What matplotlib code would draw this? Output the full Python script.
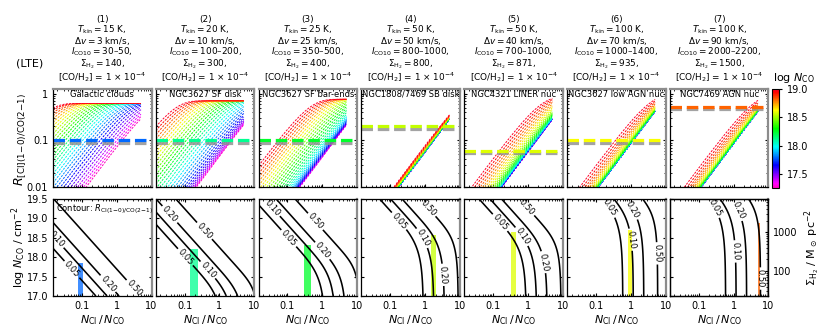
import numpy as np
import matplotlib
matplotlib.use("Agg")
import matplotlib.pyplot as plt
import matplotlib.patheffects as pe
from matplotlib.colors import Normalize
from matplotlib import ticker

# ---------------- data ----------------
PANEL_NO = ["(1)", "(2)", "(3)", "(4)", "(5)", "(6)", "(7)"]
T_KIN = [15, 20, 25, 50, 50, 100, 100]            # K
DV = [3, 10, 25, 50, 40, 70, 90]                  # km/s
I_CO10 = ["30–50", "100–200", "350–500", "800–1000", "700–1000", "1000–1400", "2000–2200"]
SIGMA_H2 = [140, 300, 400, 800, 871, 935, 1500]
NAMES = ["Galactic clouds", "NGC3627 SF disk", "NGC3627 SF bar-ends",
         "NGC1808/7469 SB disk", "NGC4321 LINER nuc", "NGC3627 low AGN nuc",
         "NGC7469 AGN nuc"]
LOGN_TOP_LO = [16.5, 16.5, 16.5, 16.5, 16.5, 16.5, 16.5]
LOGN_TOP_HI = [19.5, 19.5, 19.1, 18.1, 19.0, 19.45, 19.5]
N_CURVES = 31
R_OBS = [0.10, 0.10, 0.10, 0.20, 0.06, 0.10, 0.53]
BAND_X = [(0.08, 0.11), (0.14, 0.25), (0.30, 0.47), (1.5, 2.0),
          (0.32, 0.45), (0.85, 1.05), (5.0, 5.9)]
BAND_LOGN = [17.85, 18.2, 18.32, 18.58, 18.64, 18.7, 18.87]
CONTOUR_LEVELS = [0.05, 0.10, 0.20, 0.50]
X_CURVE_RANGE = (0.015, 5.0)
XLIM = (0.015, 10.0)
LOGN_LIM = (17.0, 19.5)
CBAR_LIM = (17.25, 19.0)
SIGMA_OFFSET = 15.64     # log N_CO - log Sigma_H2 for [CO/H2]=1e-4

# contour-label placement (axes fractions), layout only
LABEL_POS = [
    [(0.22, 0.30), (0.05, 0.60), (0.54, 0.11), (0.78, 0.04)],
    [(0.31, 0.41), (0.53, 0.27), (0.14, 0.84), (0.47, 0.65)],
    [(0.30, 0.59), (0.13, 0.90), (0.64, 0.46), (0.59, 0.78)],
    [(0.39, 0.78), (0.64, 0.61), (0.85, 0.22), (0.69, 0.92)],
    [(0.39, 0.78), (0.58, 0.61), (0.81, 0.35), (0.66, 0.94)],
    [(0.40, 0.89), (0.64, 0.58), (0.66, 0.89), (0.92, 0.44)],
    [(0.47, 0.92), (0.67, 0.46), (0.71, 0.89), (0.89, 0.18)],
]

# ---------------- LTE model ----------------
h = 6.62607e-27
kB = 1.380649e-16
c = 2.99792e10
TBG = 2.73
NU_CI, A_CI = 492.1607e9, 7.880e-8
E_CI, G_CI = np.array([0.0, 23.62, 62.46]), np.array([1, 3, 5])
NU_CO, A_CO, B_CO = 230.538e9, 6.910e-7, 2.766


def jnu(T, nu):
    T0 = h * nu / kB
    return T0 / np.expm1(T0 / T)


def tau_ci(N, T, dv):
    Q = np.sum(G_CI * np.exp(-E_CI / T))
    Nu = N * 3 * np.exp(-E_CI[1] / T) / Q
    return c**3 * A_CI / (8 * np.pi * NU_CI**3) * Nu * np.expm1(h * NU_CI / (kB * T)) / (dv * 1e5)


def tau_co(N, T, dv):
    J = np.arange(0, 80)
    Q = np.sum((2 * J + 1) * np.exp(-B_CO * J * (J + 1) / T))
    Nu = N * 5 * np.exp(-6 * B_CO / T) / Q
    return c**3 * A_CO / (8 * np.pi * NU_CO**3) * Nu * np.expm1(h * NU_CO / (kB * T)) / (dv * 1e5)


def ratio(x, N, T, dv):
    tci = tau_ci(x * N, T, dv)
    tco = tau_co(N, T, dv)
    num = (jnu(T, NU_CI) - jnu(TBG, NU_CI)) * (-np.expm1(-tci))
    den = (jnu(T, NU_CO) - jnu(TBG, NU_CO)) * (-np.expm1(-tco))
    return num / den


# ---------------- figure ----------------
plt.rcParams.update({
    "font.family": "DejaVu Sans",
    "font.size": 7,
    "xtick.direction": "in", "ytick.direction": "in",
    "xtick.top": True, "ytick.right": True,
    "xtick.major.size": 2.5, "ytick.major.size": 2.5,
    "xtick.minor.size": 1.3, "ytick.minor.size": 1.3,
    "xtick.labelsize": 7, "ytick.labelsize": 7,
    "axes.linewidth": 0.9,
})

W, H = 822, 329
fig = plt.figure(figsize=(W / 100, H / 100), dpi=100)
cmap = plt.get_cmap("gist_rainbow_r")
norm = Normalize(*CBAR_LIM)

col_left = [53 + i * 102.83 for i in range(7)]
pw = 98.5
top_y0, top_y1 = 88.5, 187.0
bot_y0, bot_y1 = 199.0, 296.0


def fax(x0, y0, w, hgt):
    return fig.add_axes([x0 / W, 1 - (y0 + hgt) / H, w / W, hgt / H])


def frac_to_data(fx, fy):
    lx0, lx1 = np.log10(XLIM[0]), np.log10(XLIM[1])
    return 10 ** (lx0 + fx * (lx1 - lx0)), LOGN_LIM[0] + fy * (LOGN_LIM[1] - LOGN_LIM[0])


xc = np.logspace(np.log10(X_CURVE_RANGE[0]), np.log10(X_CURVE_RANGE[1]), 300)
xg = np.logspace(np.log10(XLIM[0]), np.log10(XLIM[1]), 300)
ng = np.linspace(LOGN_LIM[0], LOGN_LIM[1], 250)
XG, NG = np.meshgrid(xg, ng)

for i in range(7):
    T, dv = T_KIN[i], DV[i]
    ax = fax(col_left[i], top_y0, pw, top_y1 - top_y0)
    logNs = np.linspace(LOGN_TOP_LO[i], LOGN_TOP_HI[i], N_CURVES)
    for j, lN in enumerate(logNs):
        col = cmap(j / (N_CURVES - 1))
        ax.plot(xc, ratio(xc, 10**lN, T, dv), color=col, lw=0.7,
                ls=(0, (2.2, 1.3)))
    ocol = cmap(norm(np.log10(SIGMA_H2[i]) + SIGMA_OFFSET))
    ax.axhline(R_OBS[i], color=ocol, lw=2.3, ls=(0, (3.6, 1.5)),
               path_effects=[pe.SimpleLineShadow(offset=(0, -1.7), shadow_color="0.55", alpha=0.8),
                             pe.Normal()])
    ax.set_xscale("log"); ax.set_yscale("log")
    ax.set_xlim(*XLIM); ax.set_ylim(0.01, 1.3)
    ax.xaxis.set_major_formatter(ticker.NullFormatter())
    ax.xaxis.set_minor_formatter(ticker.NullFormatter())
    if i == 0:
        ax.set_yticks([0.01, 0.1, 1])
        ax.set_yticklabels(["0.01", "0.1", "1"])
    else:
        ax.yaxis.set_major_formatter(ticker.NullFormatter())
    ax.yaxis.set_minor_formatter(ticker.NullFormatter())
    for sp in ("top", "right"):
        ax.spines[sp].set_color("0.55"); ax.spines[sp].set_linewidth(1.6)
    ax.text(0.5, 0.985, NAMES[i], transform=ax.transAxes, ha="center", va="top",
            fontsize=6)

    # title block (one multi-line text per column)
    cx = (col_left[i] + pw / 2) / W
    lines = [PANEL_NO[i],
             r"$T_{\rm kin}=%d$ K," % T,
             r"$\Delta v=%d$ km/s," % dv,
             r"$I_{\rm CO10}=$" + I_CO10[i] + ",",
             r"$\Sigma_{\rm H_2}=%d$," % SIGMA_H2[i],
             r"[CO/H$_2$] = 1 × 10$^{-4}$"]
    fig.text(cx, 1 - 84 / H, "\n".join(lines), ha="center", va="bottom",
             multialignment="center", fontsize=6.4, linespacing=0.9)

    # bottom contour panel
    bx = fax(col_left[i], bot_y0, pw, bot_y1 - bot_y0)
    RG = ratio(XG, 10**NG, T, dv)
    bx.fill_between(list(BAND_X[i]), [LOGN_LIM[0]] * 2, [BAND_LOGN[i]] * 2,
                    color=ocol, alpha=0.75, lw=0)
    bx.set_xscale("log")
    bx.set_xlim(*XLIM); bx.set_ylim(*LOGN_LIM)
    cs = bx.contour(XG, NG, RG, levels=CONTOUR_LEVELS, colors="k", linewidths=1.15)
    manual = [frac_to_data(fx, fy) for fx, fy in LABEL_POS[i]]
    bx.clabel(cs, fmt="%.2f", fontsize=6, inline=True, inline_spacing=2, manual=manual)
    bx.set_xticks([0.1, 1, 10]); bx.set_xticklabels(["0.1", "1", "10"])
    bx.xaxis.set_minor_formatter(ticker.NullFormatter())
    bx.set_yticks([17.0, 17.5, 18.0, 18.5, 19.0, 19.5])
    if i == 0:
        bx.set_yticklabels(["17.0", "17.5", "18.0", "18.5", "19.0", "19.5"])
        bx.text(0.03, 0.97, r"Contour: $R_{\rm CI(1\!-\!0)/CO(2\!-\!1)}$", transform=bx.transAxes,
                ha="left", va="top", fontsize=6)
    else:
        bx.set_yticklabels([])
    bx.spines["right"].set_color("0.55"); bx.spines["right"].set_linewidth(1.6)
    bx.set_xlabel(r"$N_{\rm CI}\,/\,N_{\rm CO}$", fontsize=8, labelpad=2)
    if i == 6:
        tw = bx.twinx()
        tw.set_yscale("log")
        tw.set_ylim(10**(LOGN_LIM[0] - SIGMA_OFFSET), 10**(LOGN_LIM[1] - SIGMA_OFFSET))
        tw.set_yticks([100, 1000]); tw.set_yticklabels(["100", "1000"])
        tw.yaxis.set_minor_formatter(ticker.NullFormatter())
        tw.tick_params(axis="y", which="both", direction="in")
        tw.set_ylabel(r"$\Sigma_{\rm H_2}$ / M$_\odot$ pc$^{-2}$", fontsize=8, labelpad=3)

fig.text(20 / W, 1 - 139 / H, r"$R_{\rm [CI](1\!-\!0)/CO(2\!-\!1)}$", rotation=90,
         ha="center", va="center", fontsize=9)
fig.text(19 / W, 1 - 247 / H, r"log $N_{\rm CO}$ / cm$^{-2}$", rotation=90,
         ha="center", va="center", fontsize=8)
fig.text(30 / W, 1 - 63 / H, "(LTE)", ha="center", va="center", fontsize=8)

cax = fig.add_axes([772 / W, 1 - 188 / H, 7 / W, 99 / H])
cb = matplotlib.colorbar.ColorbarBase(cax, cmap=cmap, norm=norm)
cb.set_ticks([17.5, 18.0, 18.5, 19.0])
cb.ax.tick_params(labelsize=7, direction="out", length=2)
cb.outline.set_linewidth(0.8)
fig.text(773 / W, 1 - 78 / H, r"log $N_{\rm CO}$", ha="left", va="center", fontsize=8)

fig.savefig("out.png", dpi=100)
